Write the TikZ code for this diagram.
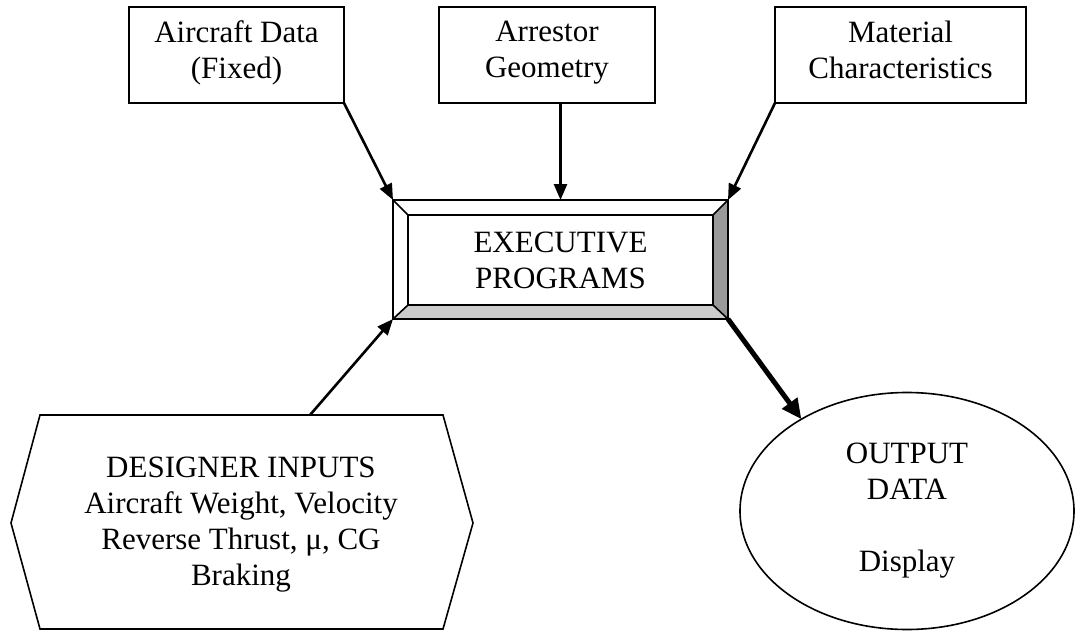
\documentclass[tikz,border=0pt]{standalone}
\usepackage{fontspec}
\setmainfont{Liberation Serif}
\usetikzlibrary{arrows.meta,shapes.geometric}

\begin{document}
\begin{tikzpicture}[x=1pt,y=-1pt,
  every node/.style={font=\fontsize{31}{36}\selectfont,align=center,inner sep=0pt,outer sep=0pt},
  inbox/.style={draw,line width=2.2pt,minimum height=96pt,
    execute at begin node=\strut,execute at end node=\strut},
  feed/.style={line width=2.6pt,-{Triangle[length=16pt,width=13pt]}},
  bigfeed/.style={line width=5pt,-{Triangle[length=20pt,width=18pt]}}]
  \useasboundingbox (0,0) rectangle (1077,632);

  % fixed inputs along the top
  \node[inbox,minimum width=215pt] (aircraft) at (236.5,55) {Aircraft Data\\(Fixed)};
  \node[inbox,minimum width=216pt] (arrestor) at (547,55) {Arrestor\\Geometry};
  \node[inbox,minimum width=251pt] (material) at (900.5,55) {Material\\Characteristics};

  % bevelled executive box
  \node[minimum width=335pt,minimum height=119pt] (exec) at (560.5,259.5) {};
  \node[minimum width=305pt,minimum height=90pt] (execin) at (560.5,260) {EXECUTIVE\\PROGRAMS};
  \fill[black!40] (exec.north east) -- (exec.south east) -- (execin.south east) -- (execin.north east) -- cycle;
  \fill[black!20] (exec.south west) -- (exec.south east) -- (execin.south east) -- (execin.south west) -- cycle;
  \draw[line width=2pt] (exec.north west) rectangle (exec.south east);
  \draw[line width=2pt] (execin.north west) rectangle (execin.south east);
  \foreach \c in {north west,north east,south west,south east}
    \draw[line width=1.6pt] (exec.\c) -- (execin.\c);

  % designer inputs
  \draw[line width=1.6pt] (40,415) -- (443,415) -- (473,523) -- (443,629) -- (40,629) -- (11,523) -- cycle;
  \node (designer) at (241,525) {DESIGNER INPUTS\\Aircraft Weight, Velocity\\Reverse Thrust, μ, CG\\Braking};
  \coordinate (designtop) at (310,415);

  % output
  \node[ellipse,draw,line width=1.6pt,minimum width=334pt,minimum height=237pt] (output) at (907,511) {OUTPUT\\DATA\\[36pt]Display};

  \draw[feed] (aircraft.south east) -- (exec.north west);
  \draw[feed] (arrestor.south -| exec.north) -- (exec.north);
  \draw[feed] (material.south west) -- (exec.north east);
  \draw[feed] (designtop) -- (exec.south west);
  \draw[bigfeed] (exec.south east) -- (output.139);
\end{tikzpicture}
\end{document}
